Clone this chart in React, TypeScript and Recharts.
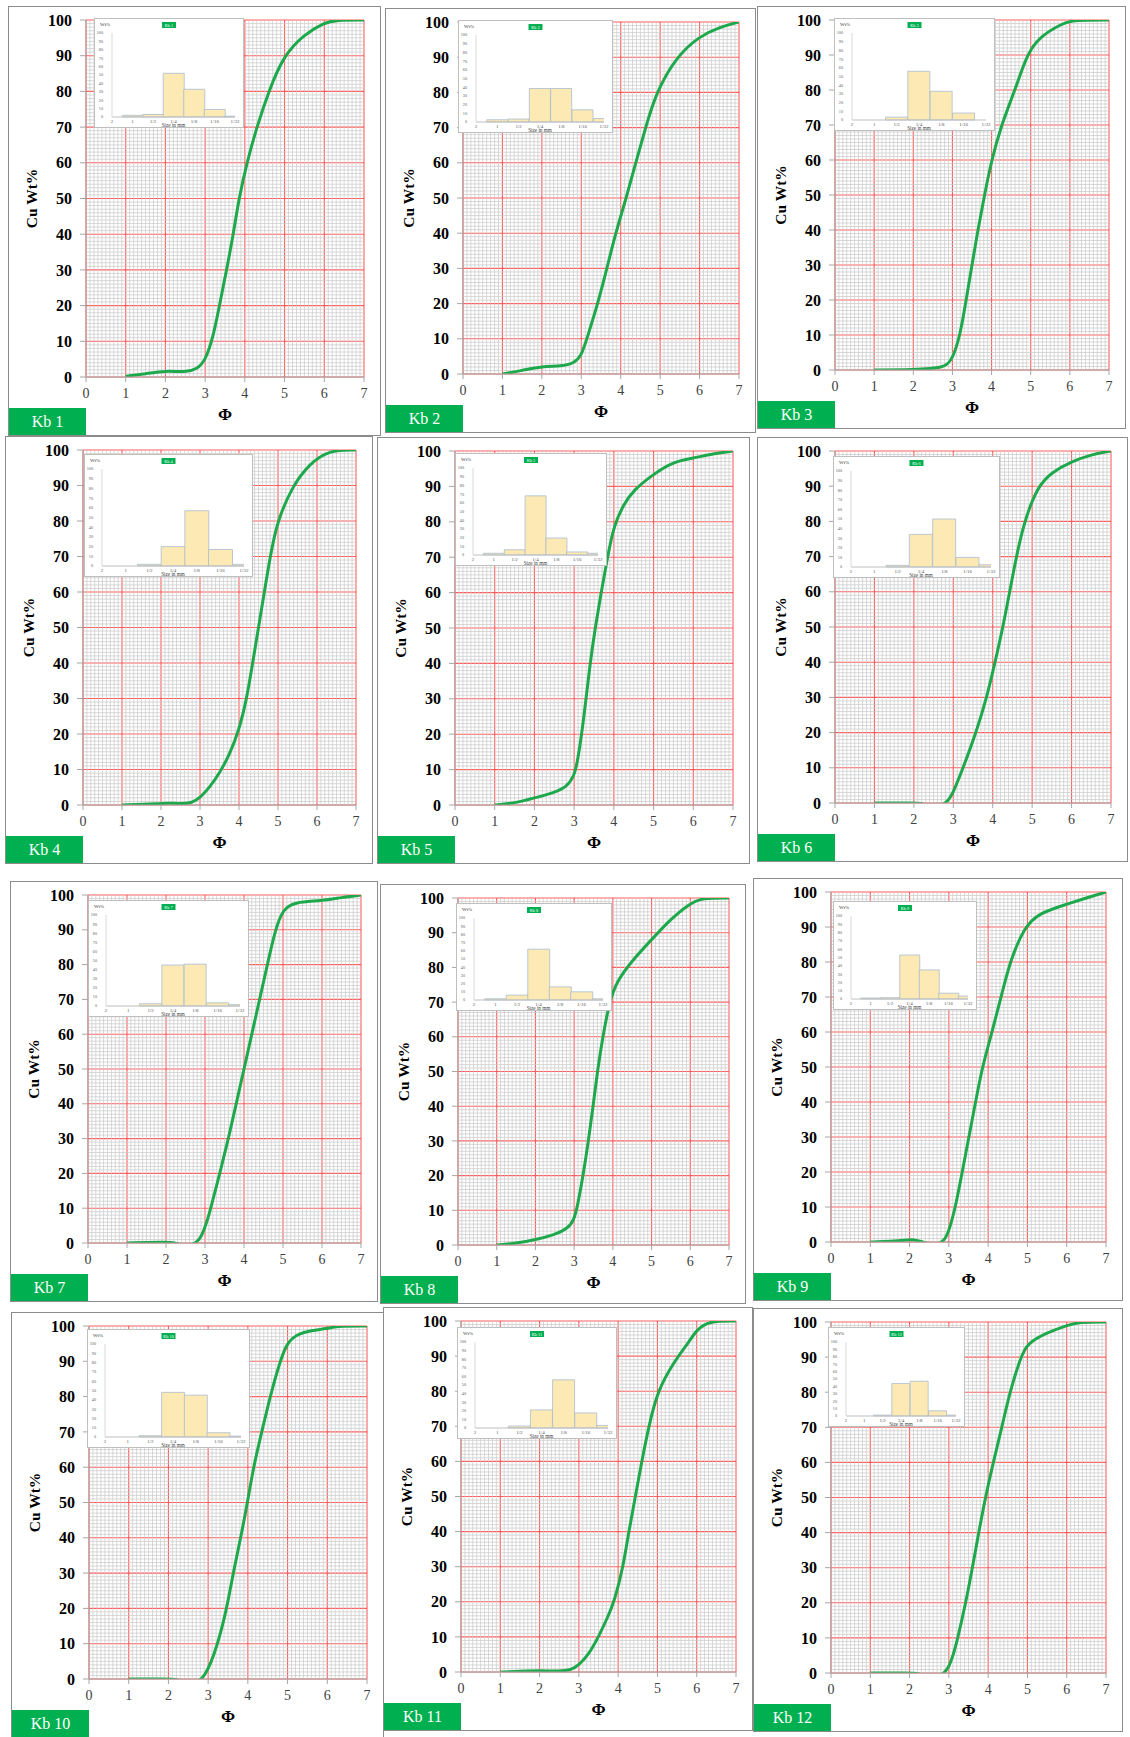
import React from 'react';
import { LineChart, Line, BarChart, Bar, XAxis, YAxis, CartesianGrid, ReferenceLine } from 'recharts';

// size classes of the insets (mm), left to right
const sizeLabels = ['2', '1', '1/2', '1/4', '1/8', '1/16', '1/32'];
const panelNames = ['Kb 1', 'Kb 2', 'Kb 3', 'Kb 4', 'Kb 5', 'Kb 6', 'Kb 7', 'Kb 8', 'Kb 9', 'Kb 10', 'Kb 11', 'Kb 12'];

// cumulative curves: [phi, cumulative wt%]
const kb1Curve = [[1, 0.2], [1.5, 0.9], [2, 1.8], [2.5, 1.3], [2.8, 2.2], [3, 4.5], [3.2, 11], [3.36, 20], [3.54, 30], [3.71, 40], [3.85, 50], [4.05, 60], [4.3, 70], [4.6, 80], [4.97, 90], [5.5, 96], [6, 99.3], [6.3, 100], [7, 100]];
const kb2Curve = [[1, 0], [1.5, 1], [2, 2.2], [2.5, 2.2], [2.8, 3], [3, 5], [3.14, 10], [3.42, 20], [3.65, 30], [3.87, 40], [4.14, 50], [4.38, 60], [4.63, 70], [4.9, 80], [5.4, 90], [6, 96], [6.5, 98.5], [7, 100]];
const kb3Curve = [[1, 0], [2, 0.1], [2.8, 0.5], [3, 3], [3.2, 10], [3.35, 20], [3.5, 30], [3.65, 40], [3.82, 50], [4, 60], [4.25, 70], [4.6, 80], [4.9, 90], [5.2, 95], [5.8, 99], [6.1, 100], [7, 100]];
const kb4Curve = [[1, 0], [2, 0.4], [2.2, 0.6], [2.5, 0.3], [2.8, 0.6], [3, 2], [3.25, 5], [3.5, 9], [3.75, 14], [4, 21], [4.2, 30], [4.35, 40], [4.5, 50], [4.65, 60], [4.8, 70], [4.98, 80], [5.38, 90], [5.8, 96], [6.3, 100], [7, 100]];
const kb5Curve = [[1, 0], [1.5, 0.5], [2, 2], [2.5, 3.5], [2.8, 5], [3, 8], [3.1, 13], [3.25, 25], [3.4, 40], [3.53, 50], [3.68, 60], [3.84, 70], [4, 79], [4.25, 85], [4.5, 89], [5, 93.5], [5.5, 97], [6, 98], [6.5, 99.2], [7, 100]];
const kb6Curve = [[1, 0], [2, 0], [2.2, 0], [2.5, -1.5], [2.85, 0], [3, 3], [3.25, 10], [3.58, 20], [3.85, 30], [4.06, 40], [4.26, 50], [4.43, 60], [4.6, 70], [4.8, 80], [5.14, 90], [5.5, 94], [6, 97], [6.5, 99], [7, 100]];
const kb7Curve = [[1, 0], [2, 0.3], [2.2, 0.2], [2.5, -1], [2.9, 0], [3.15, 10], [3.38, 20], [3.6, 30], [3.8, 40], [4, 50], [4.2, 60], [4.4, 70], [4.6, 80], [4.8, 90], [5, 96], [5.3, 98], [6, 98.3], [6.5, 99.3], [7, 100]];
const kb8Curve = [[1, 0], [1.5, 0.5], [2, 1.5], [2.5, 3], [2.8, 4.5], [3, 7], [3.1, 12], [3.23, 20], [3.37, 30], [3.49, 40], [3.6, 50], [3.74, 60], [3.91, 70], [4.1, 76], [4.5, 82], [5, 88], [5.5, 94], [6, 98.5], [6.3, 100], [7, 100]];
const kb9Curve = [[1, 0], [1.5, 0.2], [2, 0.6], [2.1, 0.7], [2.3, 0.2], [2.6, -1], [2.87, 0], [3, 3], [3.17, 10], [3.34, 20], [3.51, 30], [3.68, 40], [3.85, 50], [4.1, 60], [4.33, 70], [4.55, 80], [4.92, 90], [5.3, 94], [6, 96.5], [6.5, 98.3], [7, 100]];
const kb10Curve = [[1, 0], [2, 0], [2.2, 0], [2.6, -1.5], [2.92, 0], [3.25, 10], [3.47, 20], [3.63, 30], [3.82, 40], [3.99, 50], [4.14, 60], [4.35, 70], [4.56, 80], [4.81, 90], [4.98, 95], [5.2, 97.5], [5.6, 98.8], [6, 99.2], [6.2, 100], [7, 100]];
const kb11Curve = [[1, 0], [1.5, 0.2], [2, 0.4], [2.5, 0.2], [2.8, 0.5], [3, 2], [3.25, 5], [3.5, 10], [3.75, 16], [3.9, 20], [4.13, 30], [4.27, 40], [4.44, 50], [4.6, 60], [4.78, 70], [5, 80], [5.4, 88], [5.8, 94], [6, 97.5], [6.3, 100], [7, 100]];
const kb12Curve = [[1, 0], [2, 0], [2.2, 0], [2.6, -1.5], [3, 0], [3.23, 10], [3.43, 20], [3.6, 30], [3.76, 40], [3.93, 50], [4.13, 60], [4.35, 70], [4.55, 80], [4.83, 90], [5, 94], [5.5, 97], [6, 99], [6.3, 100], [7, 100]];

// histogram wt% per size class
const kb1Hist = [0, 2, 3, 52, 33, 9, 1];
const kb2Hist = [0, 2.6, 3.4, 38.5, 38.5, 14, 4];
const kb3Hist = [0, 0, 3.3, 56, 33, 8, 0];
const kb4Hist = [0, 0, 1.7, 20, 57, 17, 1.7];
const kb5Hist = [0, 2, 6, 68, 19.5, 3.5, 2];
const kb6Hist = [0, 0, 1.7, 34, 50, 10, 2.4];
const kb7Hist = [0, 0, 2.5, 45, 46, 3.5, 1.5];
const kb8Hist = [0, 1.5, 6, 62, 16, 10, 1.5];
const kb9Hist = [0, 1.2, 1.6, 53, 35, 7, 3.5];
const kb10Hist = [0, 0, 1.4, 48, 45, 4.6, 1];
const kb11Hist = [0, 0, 2.3, 21, 56, 17.5, 3];
const kb12Hist = [0, 0, 1.2, 44, 47, 7, 1.2];

const curves = [kb1Curve, kb2Curve, kb3Curve, kb4Curve, kb5Curve, kb6Curve, kb7Curve, kb8Curve, kb9Curve, kb10Curve, kb11Curve, kb12Curve];
const hists = [kb1Hist, kb2Hist, kb3Hist, kb4Hist, kb5Hist, kb6Hist, kb7Hist, kb8Hist, kb9Hist, kb10Hist, kb11Hist, kb12Hist];

// frame position and inset box (relative to the frame)
const layout = [
  { x: 8, y: 6, w: 373, h: 430, ix: 85, iy: 11, iw: 150, ih: 110 },
  { x: 385, y: 8, w: 371, h: 425, ix: 72, iy: 11, iw: 155, ih: 113 },
  { x: 757, y: 6, w: 369, h: 423, ix: 76, iy: 11, iw: 161, ih: 113 },
  { x: 5, y: 436, w: 368, h: 428, ix: 78, iy: 17, iw: 169, ih: 123 },
  { x: 377, y: 437, w: 373, h: 427, ix: 77, iy: 15, iw: 152, ih: 113 },
  { x: 757, y: 437, w: 371, h: 425, ix: 75, iy: 18, iw: 167, ih: 122 },
  { x: 10, y: 881, w: 368, h: 421, ix: 77, iy: 18, iw: 161, ih: 117 },
  { x: 380, y: 884, w: 366, h: 420, ix: 75, iy: 18, iw: 156, ih: 108 },
  { x: 753, y: 878, w: 370, h: 423, ix: 79, iy: 22, iw: 144, ih: 109 },
  { x: 11, y: 1312, w: 373, h: 426, ix: 75, iy: 16, iw: 163, ih: 119 },
  { x: 383, y: 1307, w: 370, h: 424, ix: 73, iy: 19, iw: 160, ih: 112 },
  { x: 753, y: 1308, w: 370, h: 424, ix: 74, iy: 18, iw: 137, ih: 100 },
];

const serif = "'Liberation Serif', 'Times New Roman', serif";
const majorX = [0, 1, 2, 3, 4, 5, 6, 7];
const majorY = [0, 10, 20, 30, 40, 50, 60, 70, 80, 90, 100];
// graph-paper lines between the red ones
const minorX = Array.from({ length: 71 }, (_, i) => i / 10).filter((_, i) => i % 10 !== 0);
const minorY = Array.from({ length: 101 }, (_, i) => i).filter((v) => v % 10 !== 0);
const histTicks = [0, 1, 2, 3, 4, 5, 6];

function Inset({ name, hist, box }: any) {
  const data = hist.map((v: number, i: number) => ({ bin: i, wt: v }));
  const w = box.iw - 2;
  const h = box.ih - 2;
  return (
    <div style={{ position: 'absolute', left: box.ix, top: box.iy, width: box.iw, height: box.ih, boxSizing: 'border-box', border: '1px solid #bfbfbf', background: '#fff' }}>
      <BarChart width={w} height={h} data={data} margin={{ top: 14, right: 8, bottom: 0, left: 0 }} barCategoryGap={0}>
        <XAxis
          dataKey="bin"
          type="number"
          domain={[0, 6]}
          ticks={histTicks}
          interval={0}
          allowDataOverflow
          height={10}
          tickFormatter={(v: number) => sizeLabels[v]}
          tick={{ fontSize: 5, fill: '#595959', fontFamily: serif }}
          tickLine={false}
          tickSize={0}
          tickMargin={2}
          axisLine={{ stroke: '#bfbfbf' }}
          label={{
            content: ({ viewBox }: any) => (
              <text x={viewBox.x + viewBox.width / 2} y={viewBox.y + 9.5} textAnchor="middle" fontSize={5.2} fill="#404040" fontFamily={serif}>
                Size in mm
              </text>
            ),
          }}
        />
        <YAxis
          type="number"
          domain={[0, 100]}
          ticks={majorY}
          interval={0}
          width={17}
          tick={{ fontSize: 4.2, fill: '#595959', fontFamily: serif }}
          tickLine={false}
          tickMargin={3}
          axisLine={{ stroke: '#d9d9d9' }}
        />
        <Bar dataKey="wt" fill="#fde9b4" stroke="#a9bccf" strokeWidth={0.8} isAnimationActive={false} />
      </BarChart>
      <svg width={w} height={h} style={{ position: 'absolute', left: 0, top: 0, pointerEvents: 'none' }}>
        <text x={5} y={7} fontSize={5} fill="#404040" fontFamily={serif}>Wt%</text>
        <rect x={w / 2 - 7} y={3} width={14} height={6} fill="#00b050" />
        <text x={w / 2} y={7.6} textAnchor="middle" fontSize={4.3} fill="#fff" fontFamily={serif}>{name}</text>
      </svg>
    </div>
  );
}

function Panel({ idx }: { idx: number }) {
  const box = layout[idx];
  const data = curves[idx].map(([phi, cum]) => ({ phi, cum }));
  const cw = box.w - 2;
  const ch = box.h - 2;
  return (
    <div style={{ position: 'absolute', left: box.x, top: box.y, width: box.w, height: box.h, boxSizing: 'border-box', border: '1px solid #8c8c8c', background: '#fff' }}>
      <LineChart width={cw} height={ch} data={data} margin={{ top: 13, right: 16, bottom: 0, left: 0 }}>
        {minorX.map((v) => (
          <ReferenceLine key={`vx${v}`} x={v} stroke="#c8c8c8" strokeWidth={0.7} />
        ))}
        {minorY.map((v) => (
          <ReferenceLine key={`hy${v}`} y={v} stroke="#c8c8c8" strokeWidth={0.7} />
        ))}
        <CartesianGrid stroke="#ff5c5c" strokeWidth={1.1} />
        <XAxis
          dataKey="phi"
          type="number"
          domain={[0, 7]}
          ticks={majorX}
          allowDataOverflow
          height={58}
          tickSize={5}
          tickMargin={6}
          tick={{ fontSize: 14, fill: '#404040', fontFamily: serif }}
          stroke="#a6a6a6"
          label={{
            content: ({ viewBox }: any) => (
              <text x={viewBox.x + viewBox.width / 2} y={viewBox.y + 43} textAnchor="middle" fontSize={17} fontWeight="bold" fill="#000" fontFamily={serif}>
                Φ
              </text>
            ),
          }}
        />
        <YAxis
          type="number"
          domain={[0, 100]}
          ticks={majorY}
          allowDataOverflow
          width={77}
          tickSize={6}
          tickMargin={8}
          tick={{ fontSize: 16, fontWeight: 'bold', fill: '#000', fontFamily: serif }}
          stroke="#a6a6a6"
          label={{
            content: ({ viewBox }: any) => {
              const cx = viewBox.x + 22;
              const cy = viewBox.y + viewBox.height / 2;
              return (
                <text x={cx} y={cy} transform={`rotate(-90 ${cx} ${cy})`} textAnchor="middle" dominantBaseline="central" fontSize={15.5} fontWeight="bold" fill="#000" fontFamily={serif}>
                  Cu Wt%
                </text>
              );
            },
          }}
        />
        <Line type="basis" dataKey="cum" stroke="#1da84b" strokeWidth={3} dot={false} isAnimationActive={false} />
      </LineChart>
      <Inset name={panelNames[idx]} hist={hists[idx]} box={box} />
      <div style={{ position: 'absolute', left: 0, bottom: 0, width: 77, height: 27, background: '#00b050', color: '#fff', fontFamily: serif, fontSize: 16, display: 'flex', alignItems: 'center', justifyContent: 'center' }}>
        {panelNames[idx]}
      </div>
    </div>
  );
}

export default function App() {
  return (
    <div style={{ position: 'absolute', left: 0, top: 0, width: 1130, height: 1737, background: '#fff', overflow: 'hidden' }}>
      {panelNames.map((n, i) => (
        <Panel key={n} idx={i} />
      ))}
    </div>
  );
}
